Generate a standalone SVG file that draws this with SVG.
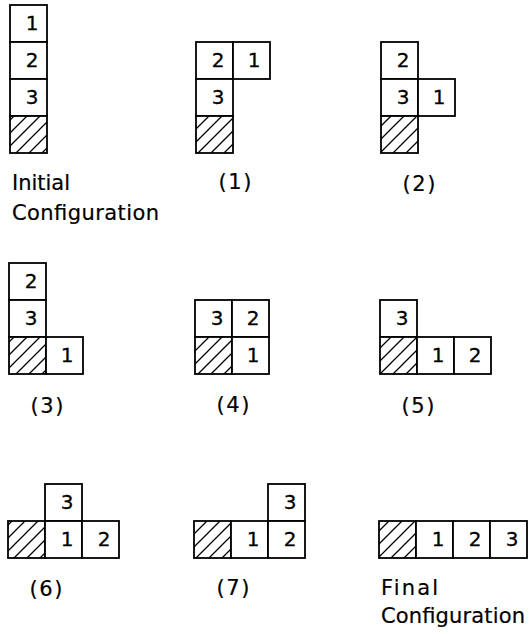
<svg xmlns="http://www.w3.org/2000/svg" width="532" height="634" viewBox="0 0 532 634">
  <style>
    .cell { fill: #fff; stroke: #000; stroke-width: 1.8; }
    .base { fill: url(#hatch); stroke: #000; stroke-width: 1.8; }
    .num { font-family: "DejaVu Sans", "Liberation Sans", sans-serif; font-size: 20px; fill: #000; stroke: #000; stroke-width: 0.3; text-anchor: middle; }
    .lbl { font-family: "DejaVu Sans", "Liberation Sans", sans-serif; font-size: 21px; fill: #000; stroke: #000; stroke-width: 0.2; }
    .cap { text-anchor: middle; }
  </style>
  <defs>
    <!-- diagonal hatching for the fixed base block -->
    <pattern id="hatch" patternUnits="userSpaceOnUse" width="13" height="13">
      <rect width="13" height="13" fill="#fff"/>
      <path d="M-2,15 L15,-2 M-2,2 L2,-2 M11,15 L15,11" stroke="#000" stroke-width="1.3"/>
    </pattern>
  </defs>
  <rect width="532" height="634" fill="#fff"/>

  <!-- Initial configuration: vertical stack 1,2,3 on the base -->
  <g id="initial">
    <rect class="cell" x="10" y="5" width="37" height="37"/>
    <rect class="cell" x="10" y="42" width="37" height="37"/>
    <rect class="cell" x="10" y="79" width="37" height="37"/>
    <rect class="base" x="10" y="116" width="37" height="37"/>
    <text class="num" x="32" y="30">1</text>
    <text class="num" x="32" y="67">2</text>
    <text class="num" x="32" y="104">3</text>
    <text class="lbl" x="12" y="190" textLength="58" lengthAdjust="spacingAndGlyphs">Initial</text>
    <text class="lbl" x="12" y="220" textLength="147" lengthAdjust="spacing">Configuration</text>
  </g>

  <!-- Step 1 -->
  <g id="step1">
    <rect class="cell" x="196" y="42" width="37" height="37"/>
    <rect class="cell" x="233" y="42" width="37" height="37"/>
    <rect class="cell" x="196" y="79" width="37" height="37"/>
    <rect class="base" x="196" y="116" width="37" height="37"/>
    <text class="num" x="218" y="67">2</text>
    <text class="num" x="254" y="67">1</text>
    <text class="num" x="218" y="104">3</text>
    <text class="lbl cap" x="235" y="189" textLength="33" lengthAdjust="spacing">(1)</text>
  </g>

  <!-- Step 2 -->
  <g id="step2">
    <rect class="cell" x="381" y="42" width="37" height="37"/>
    <rect class="cell" x="381" y="79" width="37" height="37"/>
    <rect class="cell" x="418" y="79" width="37" height="37"/>
    <rect class="base" x="381" y="116" width="37" height="37"/>
    <text class="num" x="403" y="67">2</text>
    <text class="num" x="403" y="104">3</text>
    <text class="num" x="439" y="104">1</text>
    <text class="lbl cap" x="419" y="191" textLength="33" lengthAdjust="spacing">(2)</text>
  </g>

  <!-- Step 3 -->
  <g id="step3">
    <rect class="cell" x="9" y="263" width="37" height="37"/>
    <rect class="cell" x="9" y="300" width="37" height="37"/>
    <rect class="base" x="9" y="337" width="37" height="37"/>
    <rect class="cell" x="46" y="337" width="37" height="37"/>
    <text class="num" x="31" y="288">2</text>
    <text class="num" x="31" y="325">3</text>
    <text class="num" x="67" y="362">1</text>
    <text class="lbl cap" x="47" y="413" textLength="33" lengthAdjust="spacing">(3)</text>
  </g>

  <!-- Step 4 -->
  <g id="step4">
    <rect class="cell" x="195" y="300" width="37" height="37"/>
    <rect class="cell" x="232" y="300" width="37" height="37"/>
    <rect class="base" x="195" y="337" width="37" height="37"/>
    <rect class="cell" x="232" y="337" width="37" height="37"/>
    <text class="num" x="217" y="325">3</text>
    <text class="num" x="253" y="325">2</text>
    <text class="num" x="253" y="362">1</text>
    <text class="lbl cap" x="233" y="412" textLength="33" lengthAdjust="spacing">(4)</text>
  </g>

  <!-- Step 5 -->
  <g id="step5">
    <rect class="cell" x="380" y="300" width="37" height="37"/>
    <rect class="base" x="380" y="337" width="37" height="37"/>
    <rect class="cell" x="417" y="337" width="37" height="37"/>
    <rect class="cell" x="454" y="337" width="37" height="37"/>
    <text class="num" x="402" y="325">3</text>
    <text class="num" x="438" y="362">1</text>
    <text class="num" x="475" y="362">2</text>
    <text class="lbl cap" x="418" y="413" textLength="33" lengthAdjust="spacing">(5)</text>
  </g>

  <!-- Step 6 -->
  <g id="step6">
    <rect class="cell" x="45" y="484" width="37" height="37"/>
    <rect class="base" x="8" y="521" width="37" height="37"/>
    <rect class="cell" x="45" y="521" width="37" height="37"/>
    <rect class="cell" x="82" y="521" width="37" height="37"/>
    <text class="num" x="67" y="509">3</text>
    <text class="num" x="67" y="546">1</text>
    <text class="num" x="104" y="546">2</text>
    <text class="lbl cap" x="46" y="596" textLength="33" lengthAdjust="spacing">(6)</text>
  </g>

  <!-- Step 7 -->
  <g id="step7">
    <rect class="cell" x="268" y="484" width="37" height="37"/>
    <rect class="base" x="194" y="521" width="37" height="37"/>
    <rect class="cell" x="231" y="521" width="37" height="37"/>
    <rect class="cell" x="268" y="521" width="37" height="37"/>
    <text class="num" x="290" y="509">3</text>
    <text class="num" x="253" y="546">1</text>
    <text class="num" x="290" y="546">2</text>
    <text class="lbl cap" x="233" y="595" textLength="33" lengthAdjust="spacing">(7)</text>
  </g>

  <!-- Final configuration: horizontal row base,1,2,3 -->
  <g id="final">
    <rect class="base" x="379" y="521" width="37" height="37"/>
    <rect class="cell" x="416" y="521" width="37" height="37"/>
    <rect class="cell" x="453" y="521" width="37" height="37"/>
    <rect class="cell" x="490" y="521" width="37" height="37"/>
    <text class="num" x="438" y="546">1</text>
    <text class="num" x="475" y="546">2</text>
    <text class="num" x="512" y="546">3</text>
    <text class="lbl" x="381" y="595" textLength="57" lengthAdjust="spacing">Final</text>
    <text class="lbl" x="381" y="623" textLength="144" lengthAdjust="spacing">Configuration</text>
  </g>
</svg>
